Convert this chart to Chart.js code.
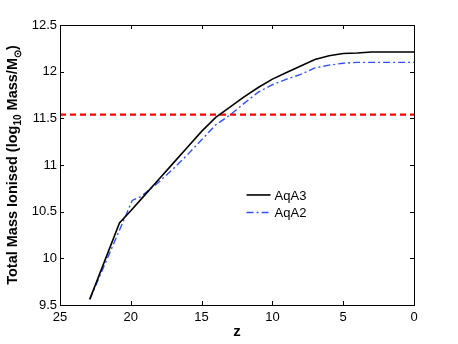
<!DOCTYPE html>
<html>
<head>
<meta charset="utf-8">
<script src="https://cdn.jsdelivr.net/npm/chart.js@4/dist/chart.umd.min.js"></script>
<style>
  html, body { margin: 0; padding: 0; background: #fff; }
</style>
</head>
<body>
<canvas id="ionised" width="458" height="344"></canvas>
<script>
// redshift and log10 ionised mass
var zA3 = [22.9, 20.8, 20, 19, 18, 17, 16, 15, 14, 13, 12, 11, 10, 9, 8, 7, 6, 5, 4, 3, 2, 1, 0];
var massA3 = [9.56, 10.38, 10.51, 10.68, 10.85, 11.02, 11.19, 11.36, 11.51, 11.62, 11.73, 11.83, 11.92, 11.99, 12.06, 12.13, 12.17, 12.195, 12.2, 12.21, 12.21, 12.21, 12.21];

var zA2 = [22.9, 19.9, 19.3, 18, 17, 16, 15, 14, 13, 12, 11, 10, 9, 8, 7, 6, 5, 4, 3, 2, 1, 0];
var massA2 = [9.56, 10.62, 10.66, 10.82, 10.96, 11.11, 11.27, 11.43, 11.535, 11.66, 11.78, 11.86, 11.92, 11.97, 12.04, 12.07, 12.09, 12.1, 12.1, 12.1, 12.1, 12.1];

// horizontal reference level
var refZ = [25, 0];
var refMass = 11.54;

var seriesNames = ["AqA3", "AqA2"];

function toPoints(xs, ys) {
  return xs.map(function (x, i) { return { x: x, y: ys[i] }; });
}

var font = "'Liberation Sans', Arial, Helvetica, sans-serif";

// matlab style box with inward ticks on all four sides
var boxPlugin = {
  id: "box",
  afterDraw: function (chart) {
    var ctx = chart.ctx, a = chart.chartArea;
    var sx = chart.scales.x, sy = chart.scales.y;
    ctx.save();
    ctx.strokeStyle = "#000";
    ctx.lineWidth = 1;
    ctx.strokeRect(a.left + 0.5, a.top + 0.5, a.right - a.left, a.bottom - a.top);
    var len = 4;
    ctx.beginPath();
    sx.ticks.forEach(function (t) {
      var px = Math.round(sx.getPixelForValue(t.value)) + 0.5;
      ctx.moveTo(px, a.bottom); ctx.lineTo(px, a.bottom - len);
      ctx.moveTo(px, a.top); ctx.lineTo(px, a.top + len);
    });
    sy.ticks.forEach(function (t) {
      var py = Math.round(sy.getPixelForValue(t.value)) + 0.5;
      ctx.moveTo(a.left, py); ctx.lineTo(a.left + len, py);
      ctx.moveTo(a.right, py); ctx.lineTo(a.right - len, py);
    });
    ctx.stroke();

    // legend, no frame
    var lx = a.left + (a.right - a.left) * 0.527;
    var ly = a.top + (a.bottom - a.top) * 0.607;
    chart.data.datasets.forEach(function (ds, i) {
      if (!ds.label) return;
      var y = ly + i * 17.5;
      ctx.beginPath();
      ctx.strokeStyle = ds.borderColor;
      ctx.lineWidth = ds.borderWidth;
      ctx.setLineDash(ds.borderDash || []);
      ctx.moveTo(lx, y); ctx.lineTo(lx + 24, y);
      ctx.stroke();
      ctx.setLineDash([]);
      ctx.fillStyle = "#000";
      ctx.font = "13px " + font;
      ctx.textBaseline = "middle";
      ctx.textAlign = "left";
      ctx.fillText(ds.label, lx + 28, y + 1);
    });

    // y axis title with subscripts
    var parts = [
      ["Total Mass Ionised (log", 0],
      ["10", 1],
      [" Mass/M", 0],
      ["\u2299", 1],
      [")", 0]
    ];
    var big = "bold 14.5px " + font, small = "bold 10px " + font;
    var total = 0;
    parts.forEach(function (p) {
      ctx.font = p[1] ? small : big;
      total += ctx.measureText(p[0]).width;
    });
    ctx.translate(13, (a.top + a.bottom) / 2);
    ctx.rotate(-Math.PI / 2);
    ctx.fillStyle = "#000";
    ctx.textAlign = "left";
    ctx.textBaseline = "middle";
    var cx = -total / 2;
    parts.forEach(function (p) {
      ctx.font = p[1] ? small : big;
      ctx.fillText(p[0], cx, p[1] ? 5 : 0);
      cx += ctx.measureText(p[0]).width;
    });
    ctx.restore();
  }
};

var ctx = document.getElementById("ionised");
var myChart = new Chart(ctx, {
  type: "scatter",
  data: {
    datasets: [
      {
        label: seriesNames[0],
        data: toPoints(zA3, massA3),
        showLine: true,
        borderColor: "#000000",
        borderWidth: 1.6,
        pointRadius: 0,
        fill: false
      },
      {
        label: seriesNames[1],
        data: toPoints(zA2, massA2),
        showLine: true,
        borderColor: "#3050ff",
        borderWidth: 1.4,
        borderDash: [7, 3, 2, 3],
        pointRadius: 0,
        fill: false
      },
      {
        label: "",
        data: refZ.map(function (z) { return { x: z, y: refMass }; }),
        showLine: true,
        borderColor: "#ff0000",
        borderWidth: 2.2,
        borderDash: [6, 4],
        pointRadius: 0,
        fill: false
      }
    ]
  },
  plugins: [boxPlugin],
  options: {
    responsive: false,
    animation: false,
    devicePixelRatio: 1,
    layout: { padding: { top: 25, right: 44, left: 0, bottom: 0 } },
    plugins: {
      legend: { display: false },
      tooltip: { enabled: false }
    },
    scales: {
      x: {
        type: "linear",
        reverse: true,
        min: 0,
        max: 25,
        grid: { display: false, drawTicks: false },
        border: { display: false },
        ticks: { stepSize: 5, padding: 5, color: "#000", font: { family: font, size: 13 } },
        title: {
          display: true,
          text: "z",
          color: "#000",
          font: { family: font, size: 15, weight: "bold" },
          padding: { top: 0, bottom: 3 }
        },
        afterFit: function (s) { s.height = 39; }
      },
      y: {
        min: 9.5,
        max: 12.5,
        grid: { display: false, drawTicks: false },
        border: { display: false },
        ticks: {
          stepSize: 0.5,
          padding: 3,
          color: "#000",
          font: { family: font, size: 13 },
          callback: function (v) { return String(Math.round(v * 10) / 10); }
        },
        afterFit: function (s) { s.width = 60; }
      }
    }
  }
});
</script>
</body>
</html>
